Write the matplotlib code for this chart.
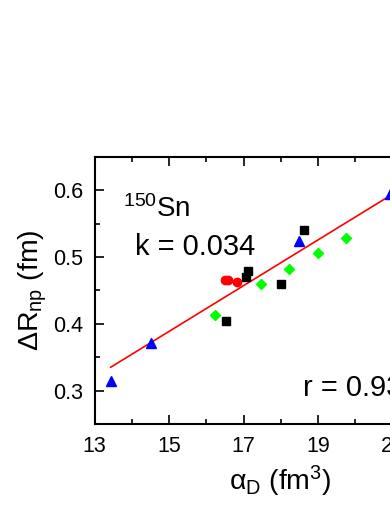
import matplotlib
matplotlib.use("Agg")
import matplotlib.pyplot as plt
import numpy as np

plt.rcParams['font.family'] = ['Liberation Sans', 'DejaVu Sans']
plt.rcParams['mathtext.fontset'] = 'custom'
plt.rcParams['mathtext.rm'] = 'Liberation Sans'
plt.rcParams['mathtext.it'] = 'Liberation Sans'
plt.rcParams['mathtext.bf'] = 'Liberation Sans:bold'

# data
tri_x = [13.43, 14.51, 18.50, 20.94]
tri_y = [0.314, 0.371, 0.524, 0.594]
sq_x = [16.54, 17.06, 17.11, 18.00, 18.63]
sq_y = [0.404, 0.470, 0.479, 0.459, 0.541]
circ_x = [16.50, 16.58, 16.82]
circ_y = [0.465, 0.466, 0.463]
dia_x = [16.24, 17.46, 18.21, 18.99, 19.75]
dia_y = [0.413, 0.459, 0.482, 0.506, 0.529]
fit_slope = 0.0342
fit_intercept = -0.1244
xticks = [13, 15, 17, 19, 21, 23]
yticks = [0.3, 0.4, 0.5, 0.6]

fig = plt.figure(figsize=(3.9, 5.05), dpi=100)
ax = fig.add_axes([0.2428, 0.1604, 0.954, 0.5293])

all_x = np.array(tri_x + sq_x + circ_x + dia_x)
xf = np.array([all_x.min(), all_x.max()])
ax.plot(xf, fit_intercept + fit_slope * xf, color='red', lw=1.2, zorder=2)

ax.plot(sq_x, sq_y, 's', color='black', ms=5.6, mec='black', zorder=3)
ax.plot(circ_x, circ_y, 'o', color='red', ms=6.0, mec='red', zorder=3)
ax.plot(tri_x, tri_y, '^', color='blue', ms=7.8, mec='blue', zorder=3)
ax.plot(dia_x, dia_y, 'D', color='#00ff00', ms=5.5, mec='#00ff00', zorder=3)

ax.set_xlim(13, 23)
ax.set_ylim(0.25, 0.65)
ax.set_xticks(xticks)
ax.set_xticks([14, 16, 18, 20, 22], minor=True)
ax.set_yticks(yticks)
ax.set_yticks([0.35, 0.45, 0.55], minor=True)
ax.set_xticklabels([str(t) for t in xticks])
ax.set_yticklabels([f"{t:.1f}" for t in yticks])

ax.tick_params(which='both', direction='in', top=True, right=True, width=1.2)
ax.tick_params(which='major', length=6.5, labelsize=15.5, pad=8.5)
ax.tick_params(which='minor', length=3.5)
for s in ax.spines.values():
    s.set_linewidth(1.5)

ax.set_xlabel(r"$\alpha_{\mathrm{D}}$ (fm$^{3}$)", fontsize=20.5, labelpad=5)
ax.set_ylabel(r"$\Delta\mathrm{R}_{\mathrm{np}}$ (fm)", fontsize=20.5, labelpad=3)

ax.text(13.76, 0.560, r"$^{150}$Sn", fontsize=20, ha='left', va='baseline')
ax.text(14.08, 0.503, "k = 0.034", fontsize=21, ha='left', va='baseline')
ax.text(18.6, 0.292, "r = 0.93", fontsize=21, ha='left', va='baseline')

fig.savefig("out.png", dpi=100)
